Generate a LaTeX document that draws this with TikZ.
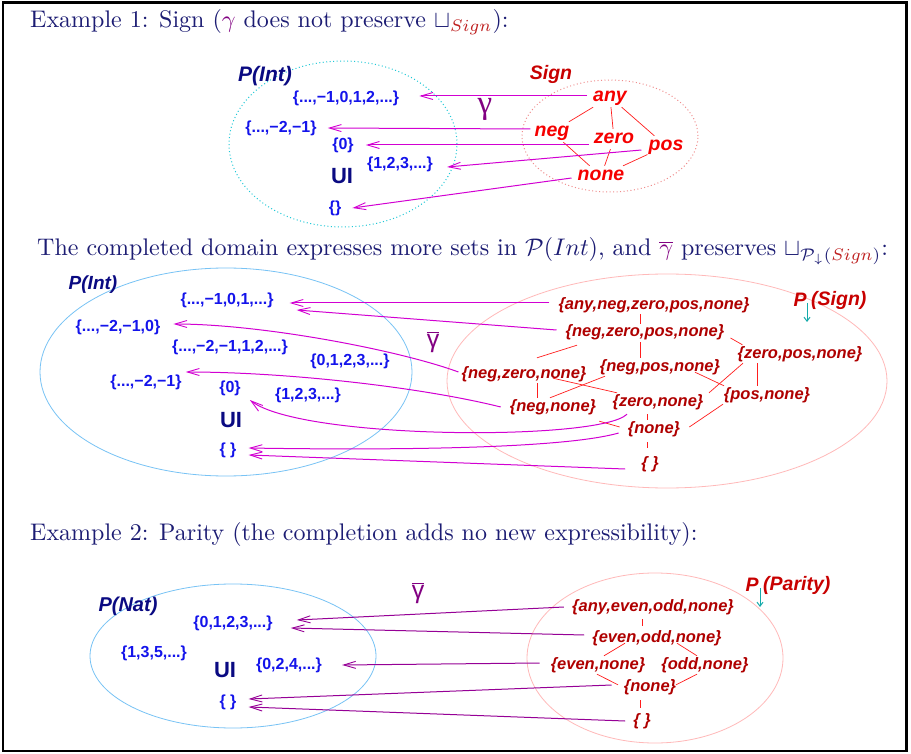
\documentclass[tikz,border=0pt]{standalone}
\usepackage{fontspec}
\usepackage{graphicx}
\newfontfamily\hv{Liberation Sans}
\newfontfamily\tms{Liberation Serif}
\usetikzlibrary{arrows.meta}

\definecolor{titleblue}{RGB}{28,28,115}
\definecolor{setblue}{RGB}{20,20,235}
\definecolor{darkblue}{RGB}{10,10,130}
\definecolor{signred}{RGB}{245,0,0}
\definecolor{signdark}{RGB}{200,0,0}
\definecolor{latred}{RGB}{175,0,0}
\definecolor{edgered}{RGB}{255,30,30}
\definecolor{gmag}{RGB}{210,0,210}
\definecolor{gpurple}{RGB}{150,0,150}
\definecolor{gamcol}{RGB}{130,0,130}
\definecolor{cyanline}{RGB}{30,200,215}
\definecolor{pinkdot}{RGB}{240,140,140}
\definecolor{skyline}{RGB}{120,195,245}
\definecolor{pinkline}{RGB}{255,185,185}
\definecolor{arrowcyan}{RGB}{20,170,170}
\definecolor{subred}{RGB}{190,30,30}

% headings are set at 10pt and enlarged, like a projected slide
\newcommand{\headtext}[1]{\scalebox{2.4}{\fontsize{10}{12}\selectfont #1}}

\tikzset{
  headline/.style={anchor=base west, inner sep=0pt, text=titleblue},
  blueset/.style={text=setblue, inner sep=1pt,
    font=\hv\bfseries\fontsize{16}{19}\selectfont},
  domname/.style={text=darkblue, inner sep=1pt,
    font=\hv\bfseries\itshape\fontsize{#1}{24}\selectfont},
  domname/.default=21,
  joinsym/.style={text=darkblue, inner sep=1pt,
    font=\hv\bfseries\fontsize{22}{26}\selectfont},
  signlbl/.style={text=signred, inner sep=1pt, text height=14pt, text depth=4pt,
    font=\hv\bfseries\itshape\fontsize{19.5}{22}\selectfont},
  latlbl/.style={text=latred, inner sep=1pt, text height=12pt, text depth=4pt,
    font=\hv\bfseries\itshape\fontsize{16.5}{19}\selectfont},
  abstname/.style={text=signdark, inner sep=1pt,
    font=\hv\bfseries\itshape\fontsize{19.5}{22}\selectfont},
  gamlbl/.style={text=gamcol, inner sep=1pt, font=\tms\fontsize{33}{36}\selectfont},
  gambar/.style={text=gamcol, inner sep=1pt, font=\hv\fontsize{25}{30}\selectfont},
  latedge/.style={draw=edgered, line width=0.7pt},
  garrow/.style={draw=gmag, line width=1pt,
    -{Straight Barb[length=12pt,width=7pt,line width=0.9pt]}},
  parrow/.style={draw=gpurple, line width=1pt,
    -{Straight Barb[length=12pt,width=7pt,line width=0.9pt]}},
  downarrow/.style={draw=arrowcyan, line width=1pt,
    -{Straight Barb[length=4pt,width=6pt]}},
}

\begin{document}
\begin{tikzpicture}[x=1pt,y=-1pt]
\useasboundingbox (0,0) rectangle (911,754);
\fill[white] (0,0) rectangle (911,754);
\draw[line width=2.5pt] (3,2.5) rectangle (906.5,751);

% ---------------- Example 1: Sign ----------------
\node[headline] (head1) at (30,28)
  {\headtext{Example 1: Sign (\textcolor{gamcol}{$\gamma$} does not preserve $\sqcup_{\textcolor{subred}{Sign}}$):}};

\draw[cyanline, line width=1pt, dash pattern=on 1pt off 2.5pt] (343,144) ellipse [x radius=114pt, y radius=83pt];
\draw[pinkdot, line width=1pt, dash pattern=on 1pt off 2.5pt] (610,136) ellipse [x radius=88pt, y radius=56pt];

\node[domname] (pint1) at (265,76) {P(Int)};
\node[blueset] (a1) at (346,98) {\{...,−1,0,1,2,...\}};
\node[blueset] (a2) at (281,128) {\{...,−2,−1\}};
\node[blueset] (a3) at (343,145) {\{0\}};
\node[blueset] (a4) at (400,164) {\{1,2,3,...\}};
\node[joinsym] (ui1) at (342,176) {UI};
\node[blueset] (a5) at (335,208) {\{\}};

\node[abstname] (signname) at (551,74) {Sign};
\node[signlbl] (any) at (610,97) {any};
\node[signlbl] (neg) at (552,132) {neg};
\node[signlbl] (zero) at (614,139) {zero};
\node[signlbl] (pos) at (666,146) {pos};
\node[signlbl] (none) at (601,176) {none};

\draw[latedge] (any) -- (neg);
\draw[latedge] (any) -- (zero);
\draw[latedge] (any) -- (pos);
\draw[latedge] (neg) -- (none);
\draw[latedge] (zero) -- (none);
\draw[latedge] (pos) -- (none);

\node[gamlbl] (gam1) at (485,109) {γ};

\draw[garrow] ([xshift=-5pt,yshift=1pt]any.west) -- ([xshift=19pt,yshift=2pt]a1.east);
\draw[garrow] ([xshift=-3pt,yshift=3pt]neg.west) -- ([xshift=10pt]a2.east);
\draw[garrow] ([xshift=-4pt,yshift=-6pt]zero.west) -- ([xshift=11pt]a3.east);
\draw[garrow] ([xshift=-6pt,yshift=-4pt]pos.west) -- ([xshift=13pt,yshift=-3pt]a4.east);
\draw[garrow] ([xshift=-5pt,yshift=-2pt]none.west) -- ([xshift=10pt]a5.east);

% ---------------- completed domain ----------------
\node[headline] (head2) at (37,256)
  {\headtext{The completed domain expresses more sets in $\mathcal{P}(Int)$, and
   \textcolor{gamcol}{$\overline{\gamma}$} preserves
   $\sqcup_{\mathcal{P}_{\downarrow}(\textcolor{subred}{Sign})}$:}};

\draw[skyline, line width=0.8pt] (226,372) ellipse [x radius=186pt, y radius=104pt];
\draw[pinkline, line width=0.8pt] (667,381) ellipse [x radius=220pt, y radius=107pt];

\node[domname=19] (pint2) at (93,285) {P(Int)};
\node[blueset] (b1) at (227,300) {\{...,−1,0,1,...\}};
\node[blueset] (b2) at (118,327) {\{...,−2,−1,0\}};
\node[blueset] (b3) at (230,347) {\{...,−2,−1,1,2,...\}};
\node[blueset] (b4) at (350,361) {\{0,1,2,3,...\}};
\node[blueset] (b5) at (146,382) {\{...,−2,−1\}};
\node[blueset] (b6) at (230,388) {\{0\}};
\node[blueset] (b7) at (308,395) {\{1,2,3,...\}};
\node[joinsym] (ui2) at (231,420) {UI};
\node[blueset] (b8) at (228,450) {\{ \}};

\node[latlbl] (cA) at (654,305) {\{any,neg,zero,pos,none\}};
\node[latlbl] (cB) at (645,333) {\{neg,zero,pos,none\}};
\node[latlbl] (cC) at (800,354) {\{zero,pos,none\}};
\node[latlbl] (cD) at (524,374) {\{neg,zero,none\}};
\node[latlbl] (cE) at (660,367) {\{neg,pos,none\}};
\node[latlbl] (cF) at (553,407) {\{neg,none\}};
\node[latlbl] (cG) at (658,402) {\{zero,none\}};
\node[latlbl] (cH) at (767,395) {\{pos,none\}};
\node[latlbl] (cI) at (654,429) {\{none\}};
\node[latlbl] (cJ) at (650,464) {\{ \}};

\node[abstname] (pdown1) at (800,300) {P};
\node[abstname, anchor=west] (signset) at (810,300) {(Sign)};
\draw[downarrow] ([xshift=7pt,yshift=-3pt]pdown1.center) -- ++(0,19);

\draw[latedge] ([xshift=-14pt]cA.south) -- ([xshift=-5pt]cB.north);
\draw[latedge] ([xshift=-5pt]cB.south) -- ([xshift=-20pt]cE.north);
\draw[latedge] ([xshift=-68pt,yshift=-3pt]cB.south) -- ([xshift=13pt,yshift=7pt]cD.north);
\draw[latedge] ([xshift=5pt,yshift=-5pt]cB.east) -- ([xshift=6pt]cC.north west);
\draw[latedge] ([xshift=13pt]cD.south) -- ([xshift=-16pt]cF.north);
\draw[latedge] ([xshift=29pt,yshift=5pt]cD.south) -- ([xshift=-41pt]cG.north);
\draw[latedge] ([xshift=-55pt]cE.south) -- ([xshift=-3pt]cF.north);
\draw[latedge] ([xshift=35pt,yshift=4pt]cE.south) -- ([xshift=-43pt]cH.north);
\draw[latedge] ([xshift=-57pt]cC.south) -- ([xshift=51pt]cG.north);
\draw[latedge] ([xshift=-43pt]cC.south) -- ([xshift=-10pt]cH.north);
\draw[latedge] ([xshift=2pt,yshift=-5pt]cF.south east) -- ([xshift=-7pt,yshift=2pt]cI.west);
\draw[latedge, shorten <=3pt] ([xshift=-11pt]cG.south) -- ([xshift=-7pt]cI.north);
\draw[latedge] ([xshift=-44pt]cH.south) -- ([xshift=8pt,yshift=2pt]cI.east);
\draw[latedge, shorten <=4pt, shorten >=7pt] ([xshift=-7pt]cI.south) -- ([xshift=-3pt]cJ.north);

\node[gambar] (gam2) at (433,342) {$\overline{\hbox{\hv γ}}$};

\draw[garrow] ([xshift=-8pt,yshift=2pt]cA.west) -- ([xshift=15pt,yshift=-3pt]b1.east);
\draw[garrow] ([xshift=-8pt,yshift=3pt]cB.west) -- ([xshift=22pt,yshift=-10pt]b1.east);
\draw[garrow] ([xshift=-2pt,yshift=2pt]cD.west) .. controls +(-60,-22) and +(88,0) .. ([xshift=12pt,yshift=3pt]b2.east);
\draw[garrow] ([xshift=-8pt]cF.west) .. controls +(-80,-20) and +(100,0) .. ([xshift=3pt,yshift=10pt]b5.east);
\draw[garrow] ([xshift=-31pt,yshift=-3pt]cG.south) .. controls +(-27,27) and +(52,40) .. ([xshift=8pt,yshift=-12pt]b6.east);
\draw[garrow] ([xshift=-8pt,yshift=-4pt]cI.west) .. controls +(-60,17) and +(120,2) .. ([xshift=11pt,yshift=2pt]b8.east);
\draw[garrow] ([xshift=-15pt,yshift=-5pt]cJ.west) -- ([xshift=11pt,yshift=-5pt]b8.east);

% ---------------- Example 2: Parity ----------------
\node[headline] (head3) at (30,540)
  {\headtext{Example 2: Parity (the completion adds no new expressibility):}};

\draw[skyline, line width=0.8pt] (233,656) ellipse [x radius=143pt, y radius=72pt];
\draw[pinkline, line width=0.8pt] (655,658) ellipse [x radius=128pt, y radius=85pt];

\node[domname=20] (pnat) at (128,606) {P(Nat)};
\node[blueset] (n1) at (233,623) {\{0,1,2,3,...\}};
\node[blueset] (n2) at (154,653) {\{1,3,5,...\}};
\node[joinsym] (ui3) at (225,670) {UI};
\node[blueset] (n3) at (289,665) {\{0,2,4,...\}};
\node[blueset] (n4) at (228,702) {\{ \}};

\node[gambar] (gam3) at (418,593) {$\overline{\hbox{\hv γ}}$};

\node[abstname] (pdown2) at (752,585) {P};
\node[abstname, anchor=west] (parityset) at (762,585) {(Parity)};
\draw[downarrow] ([xshift=8pt,yshift=-3pt]pdown2.center) -- ++(0,19);

\node[latlbl] (k1) at (653,607) {\{any,even,odd,none\}};
\node[latlbl] (k2) at (657,638) {\{even,odd,none\}};
\node[latlbl] (k3) at (598,665) {\{even,none\}};
\node[latlbl] (k4) at (705,665) {\{odd,none\}};
\node[latlbl] (k5) at (650,687) {\{none\}};
\node[latlbl] (k6) at (642,721) {\{ \}};

\draw[latedge, shorten <=3pt, shorten >=3pt] ([xshift=-11pt]k1.south) -- ([xshift=-15pt]k2.north);
\draw[latedge] ([xshift=-32pt,yshift=4pt]k2.south) -- ([xshift=6pt]k3.north);
\draw[latedge] ([xshift=20pt,yshift=4pt]k2.south) -- ([xshift=-8pt]k4.north);
\draw[latedge] ([xshift=-1pt]k3.south) -- ([xshift=-32pt,yshift=-7pt]k5.north);
\draw[latedge] ([xshift=-8pt]k4.south) -- ([xshift=26pt,yshift=-7pt]k5.north);
\draw[latedge, shorten <=4pt, shorten >=4pt] ([xshift=-10pt]k5.south) -- ([xshift=-2pt]k6.north);

\draw[parrow] ([xshift=-7pt]k1.west) -- ([xshift=23pt,yshift=3pt]n1.east);
\draw[parrow] ([xshift=-7pt,yshift=3pt]k2.west) -- ([xshift=17pt,yshift=-5pt]n1.east);
\draw[parrow] ([xshift=-10pt,yshift=2pt]k3.west) -- ([xshift=19pt]n3.east);
\draw[parrow] ([xshift=-11pt,yshift=2pt]k5.west) -- ([xshift=11pt,yshift=3pt]n4.east);
\draw[parrow] ([xshift=-7pt]k6.west) -- ([xshift=11pt,yshift=-5pt]n4.east);
\end{tikzpicture}
\end{document}
